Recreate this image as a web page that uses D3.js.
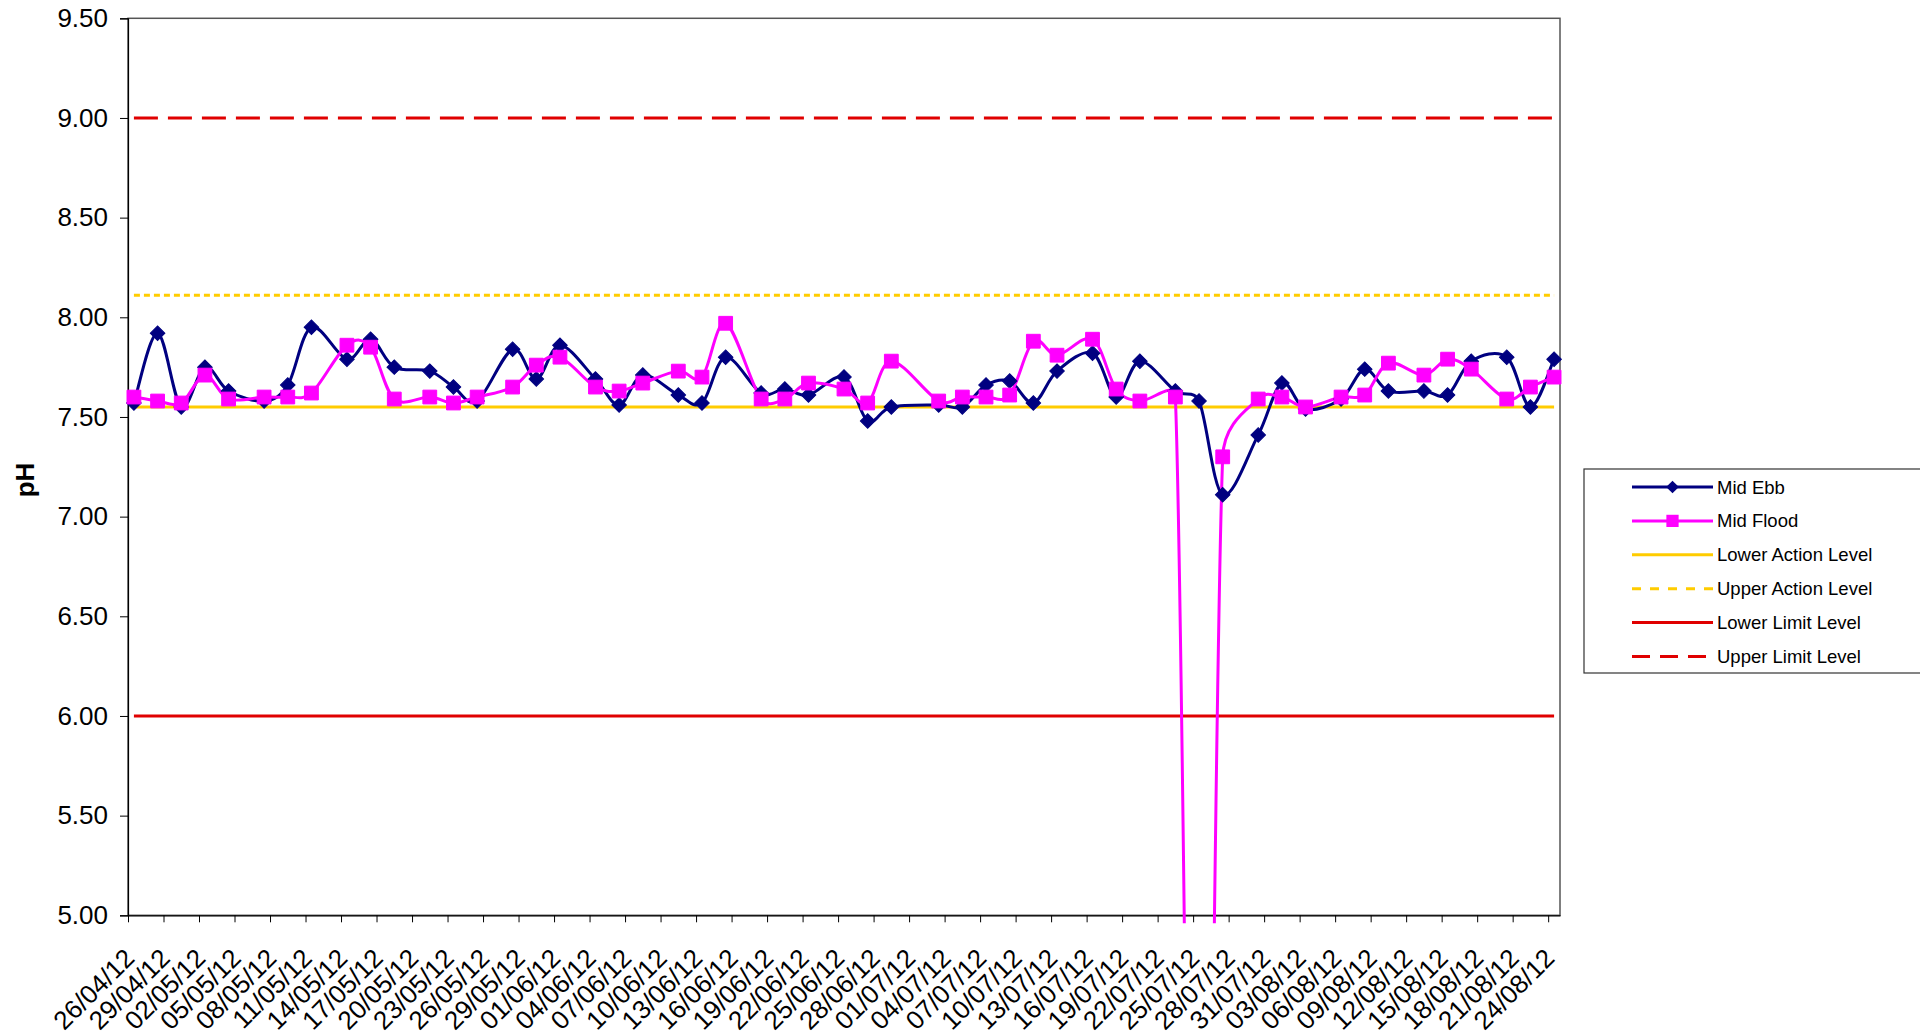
<!DOCTYPE html>
<html><head><meta charset="utf-8">
<script src="https://cdn.jsdelivr.net/npm/d3@7"></script>
<style>html,body{margin:0;padding:0;background:#fff;overflow:hidden}</style>
</head><body><svg id="c" width="1920" height="1031"></svg>
<script>
// ---------------- data ----------------
const dates = ["26/04/12","28/04/12","30/04/12","02/05/12","04/05/12","07/05/12","09/05/12","11/05/12","14/05/12","16/05/12","18/05/12","21/05/12","23/05/12","25/05/12","28/05/12","30/05/12","01/06/12","04/06/12","06/06/12","08/06/12","11/06/12","13/06/12","15/06/12","18/06/12","20/06/12","22/06/12","25/06/12","27/06/12","29/06/12","03/07/12","05/07/12","07/07/12","09/07/12","11/07/12","13/07/12","16/07/12","18/07/12","20/07/12","23/07/12","25/07/12","27/07/12","30/07/12","01/08/12","03/08/12","06/08/12","08/08/12","10/08/12","13/08/12","15/08/12","17/08/12","20/08/12","22/08/12","24/08/12"];
const midEbb = [7.57,7.92,7.55,7.75,7.63,7.58,7.66,7.95,7.79,7.89,7.75,7.73,7.65,7.58,7.84,7.69,7.86,7.69,7.56,7.71,7.61,7.57,7.80,7.62,7.64,7.61,7.70,7.48,7.55,7.56,7.55,7.66,7.68,7.57,7.73,7.82,7.60,7.78,7.63,7.58,7.11,7.41,7.67,7.54,7.59,7.74,7.63,7.63,7.61,7.78,7.80,7.55,7.79];
const midFlood = [7.60,7.58,7.57,7.71,7.59,7.60,7.60,7.62,7.86,7.85,7.59,7.60,7.57,7.60,7.65,7.76,7.80,7.65,7.63,7.67,7.73,7.70,7.97,7.59,7.59,7.67,7.64,7.57,7.78,7.58,7.60,7.60,7.61,7.88,7.81,7.89,7.64,7.58,7.60,0,7.30,7.59,7.60,7.55,7.60,7.61,7.77,7.71,7.79,7.74,7.59,7.65,7.70];
const seriesNames = ["Mid Ebb","Mid Flood"];
const levelNames = ["Lower Action Level","Upper Action Level","Lower Limit Level","Upper Limit Level"];
const levelValues = [7.55, 8.11, 6.00, 9.00];
const xTickLabels = ["26/04/12","29/04/12","02/05/12","05/05/12","08/05/12","11/05/12","14/05/12","17/05/12","20/05/12","23/05/12","26/05/12","29/05/12","01/06/12","04/06/12","07/06/12","10/06/12","13/06/12","16/06/12","19/06/12","22/06/12","25/06/12","28/06/12","01/07/12","04/07/12","07/07/12","10/07/12","13/07/12","16/07/12","19/07/12","22/07/12","25/07/12","28/07/12","31/07/12","03/08/12","06/08/12","09/08/12","12/08/12","15/08/12","18/08/12","21/08/12","24/08/12"];
const yTicks = [5.00,5.50,6.00,6.50,7.00,7.50,8.00,8.50,9.00,9.50];
const yTitle = "pH";

// ---------------- layout ----------------
const FONT = "'Liberation Sans', Arial, sans-serif";
const L = 128, R = 1560, T = 18.3, B = 915.3;
const parse = d3.utcParse("%d/%m/%y");
const tickDates = xTickLabels.map(parse);
const x = d3.scaleUtc()
  .domain([tickDates[0], d3.utcDay.offset(tickDates[tickDates.length-1], 1)])
  .range([L, R]);
const y = d3.scaleLinear().domain([5, 9.5]).range([B, T]);
const xMid = s => x(d3.utcHour.offset(parse(s), 12));

const colors = {ebb:"#000080", flood:"#FF00FF"};
const levelStyles = [
  {color:"#FFCC00", dash:null},
  {color:"#FFCC00", dash:"6,4"},
  {color:"#E00000", dash:null},
  {color:"#E00000", dash:"24,10"}
];

// Excel-like smoothed line curve (Bezier, tangents (P2-P0)/6 capped at half segment length)
function ExcelSmooth(ctx){ this._context = ctx; }
function tang(a, b, seg){
  let dx = (b[0]-a[0])/6, dy = (b[1]-a[1])/6;
  const len = Math.hypot(dx, dy), m = seg/2;
  if (len > m && len > 0){ dx *= m/len; dy *= m/len; }
  return [dx, dy];
}
ExcelSmooth.prototype = {
  areaStart(){}, areaEnd(){},
  lineStart(){ this._pts = []; },
  point(px, py){ this._pts.push([+px, +py]); },
  lineEnd(){
    const p = this._pts, n = p.length, c = this._context;
    if (!n) return;
    c.moveTo(p[0][0], p[0][1]);
    for (let i = 0; i < n-1; i++){
      const p0 = p[Math.max(0,i-1)], p1 = p[i], p2 = p[i+1], p3 = p[Math.min(n-1,i+2)];
      const seg = Math.hypot(p2[0]-p1[0], p2[1]-p1[1]);
      const t1 = tang(p0, p2, seg), t2 = tang(p1, p3, seg);
      c.bezierCurveTo(p1[0]+t1[0], p1[1]+t1[1], p2[0]-t2[0], p2[1]-t2[1], p2[0], p2[1]);
    }
  }
};
const curveExcel = ctx => new ExcelSmooth(ctx);

const svg = d3.select("#c");
svg.append("rect").attr("width",1920).attr("height",1031).attr("fill","#fff");

svg.append("defs").append("clipPath").attr("id","clip")
  .append("rect").attr("x",L).attr("y",T).attr("width",R-L).attr("height",B-T+8);

// plot frame
svg.append("rect").attr("x",L).attr("y",T).attr("width",R-L).attr("height",B-T)
  .attr("fill","none").attr("stroke","#555").attr("stroke-width",1.5);

// axes
const yAxis = svg.append("g").attr("transform",`translate(${L},0)`)
  .call(d3.axisLeft(y).tickValues(yTicks).tickFormat(d3.format(".2f")).tickSize(8).tickPadding(12));
yAxis.select(".domain").attr("stroke","#000").attr("stroke-width",1.2);
yAxis.selectAll("text").attr("font-family",FONT).attr("font-size",26).attr("fill","#000");

const xAxis = svg.append("g").attr("transform",`translate(0,${B})`)
  .call(d3.axisBottom(x).tickValues(tickDates).tickFormat((d,i)=>xTickLabels[i]).tickSize(7).tickSizeOuter(0));
xAxis.select(".domain").attr("stroke","#000").attr("stroke-width",1.2);
xAxis.selectAll("text")
  .attr("font-family",FONT).attr("font-size",26).attr("fill","#000")
  .attr("text-anchor","end").attr("y",0).attr("dy","0.35em")
  .attr("transform","translate(1,38) rotate(-45)");

svg.append("text").text(yTitle)
  .attr("font-family",FONT).attr("font-size",26).attr("font-weight","bold")
  .attr("text-anchor","middle").attr("dominant-baseline","central")
  .attr("transform","translate(25,480) rotate(-90)");

const plot = svg.append("g").attr("clip-path","url(#clip)");

// series
const line = d3.line().x((d,i)=>xMid(dates[i])).y(d=>y(d)).curve(curveExcel);

function drawSeries(vals, color, marker){
  plot.append("path").datum(vals).attr("d",line)
    .attr("fill","none").attr("stroke",color).attr("stroke-width",3).attr("stroke-linejoin","round");
  const g = svg.append("g");
  vals.forEach((v,i)=>{
    const py = y(v);
    if (py > B + 10) return;
    if (marker === "diamond"){
      g.append("path").attr("d",d3.symbol(d3.symbolSquare,106)())
        .attr("transform",`translate(${xMid(dates[i])},${py}) rotate(45)`)
        .attr("fill",color).attr("stroke",color).attr("stroke-width",1);
    } else {
      g.append("path").attr("d",d3.symbol(d3.symbolSquare,190)())
        .attr("transform",`translate(${xMid(dates[i])},${py})`)
        .attr("fill",color).attr("stroke",color).attr("stroke-width",1);
    }
  });
}

// level lines
const x0 = xMid(dates[0]), x1 = xMid(dates[dates.length-1]);
levelValues.forEach((v,i)=>{
  const st = levelStyles[i];
  const p = plot.append("line").attr("x1",x0).attr("x2",x1).attr("y1",y(v)).attr("y2",y(v))
    .attr("stroke",st.color).attr("stroke-width",3);
  if (st.dash) p.attr("stroke-dasharray",st.dash);
});

drawSeries(midEbb, colors.ebb, "diamond");
drawSeries(midFlood, colors.flood, "square");

// legend
const lg = svg.append("g");
lg.append("rect").attr("x",1584).attr("y",469).attr("width",400).attr("height",204)
  .attr("fill","#fff").attr("stroke","#333").attr("stroke-width",1.2);
const legItems = [
  {name:seriesNames[0], color:colors.ebb, dash:null, marker:"diamond"},
  {name:seriesNames[1], color:colors.flood, dash:null, marker:"square"},
  ...levelNames.map((n,i)=>({name:n, color:levelStyles[i].color, dash:levelStyles[i].dash==="6,4"?"9,9":levelStyles[i].dash==="24,10"?"18,10":null, marker:null}))
];
legItems.forEach((it,i)=>{
  const cy = 487 + i*33.9;
  const ln = lg.append("line").attr("x1",1632).attr("x2",1713).attr("y1",cy).attr("y2",cy)
    .attr("stroke",it.color).attr("stroke-width",3);
  if (it.dash) ln.attr("stroke-dasharray",it.dash);
  if (it.marker === "diamond"){
    lg.append("path").attr("d",d3.symbol(d3.symbolSquare,80)())
      .attr("transform",`translate(1672.5,${cy}) rotate(45)`).attr("fill",it.color);
  } else if (it.marker === "square"){
    lg.append("path").attr("d",d3.symbol(d3.symbolSquare,150)())
      .attr("transform",`translate(1672.5,${cy})`).attr("fill",it.color);
  }
  lg.append("text").text(it.name).attr("x",1717).attr("y",cy)
    .attr("dominant-baseline","central")
    .attr("font-family",FONT).attr("font-size",18.5).attr("fill","#000");
});
</script></body></html>
